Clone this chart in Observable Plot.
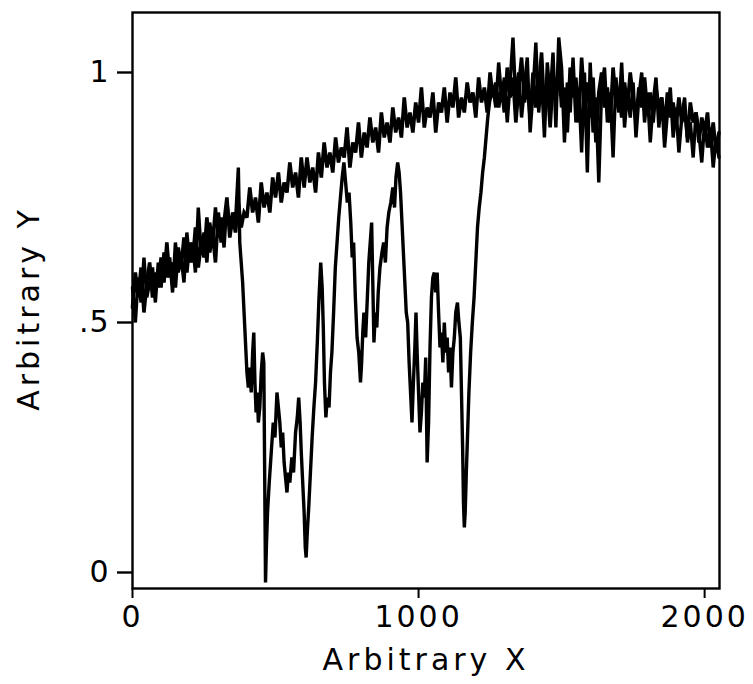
<!DOCTYPE html>
<html><head><meta charset="utf-8">
<script src="https://cdn.jsdelivr.net/npm/d3@7"></script>
<script src="https://cdn.jsdelivr.net/npm/@observablehq/plot@0.6"></script>
<style>
body{margin:0;background:#fff}
g[aria-label="x-axis tick label"] text{letter-spacing:3px}
g[aria-label="y-axis tick label"] text{letter-spacing:1px}
g[aria-label="text"] text{letter-spacing:4px}
</style>
</head><body><div id="chart"></div>
<script>
// Tick values and labels
const xTicks = [0, 1000, 2000];
const yTicks = [0, 0.5, 1];
const yTickLabels = ["0", ".5", "1"];
const xTitle = "Arbitrary X";
const yTitle = "Arbitrary Y";

// Reference trace (broad hump), sampled every 10 units from x = 0 to 2050
const refStep = 10;
const refY = [
  .53,.60,.55,.61,.52,.58,.62,.55,.60,.57,
  .63,.58,.66,.59,.62,.57,.65,.61,.67,.60,
  .66,.62,.69,.61,.66,.63,.71,.64,.68,.62,
  .72,.66,.70,.75,.67,.71,.68,.74,.69,.72,
  .71,.77,.72,.75,.70,.78,.73,.76,.72,.79,
  .75,.80,.74,.78,.76,.82,.77,.80,.75,.83,
  .77,.83,.78,.81,.76,.84,.79,.86,.81,.84,
  .80,.87,.82,.85,.83,.89,.81,.86,.84,.90,
  .83,.88,.85,.91,.86,.89,.84,.92,.87,.90,
  .86,.93,.88,.91,.87,.95,.89,.92,.88,.94,
  .90,.97,.89,.93,.91,.96,.88,.94,.92,.97,
  .90,.96,.93,.99,.91,.95,.92,.98,.94,.96,
  .91,.99,.94,.97,.92,1.00,.95,.98,.93,.97,
  .92,1.01,.95,.99,.90,.97,1.03,.94,.98,.91,
  1.00,.93,.97,1.04,.92,.98,.89,.99,.94,1.02,
  .93,.97,.88,1.01,.95,.99,.90,1.03,.94,.98,
  .91,.99,.86,.96,1.00,.93,.97,.90,1.01,.94,
  .97,.91,.98,.93,1.00,.95,.90,.97,.93,.99,
  .92,.96,.90,.97,.93,.95,.89,.96,.91,.94,
  .89,.95,.90,.93,.87,.94,.90,.92,.86,.91,
  .88,.92,.85,.90,.84,.88
];

// Sample trace: left part (x = 0..350, step 10), absorption region, right part (x = 1260..2050, step 10)
const sampleLeftY = [
  .57,.50,.59,.54,.63,.55,.58,.61,.54,.62,
  .57,.64,.59,.63,.56,.66,.60,.63,.58,.68,
  .62,.66,.60,.73,.64,.68,.62,.70,.66,.73,
  .67,.71,.65,.74,.69,.72
];
const dipX = [
  360,370,375,385,395,400,405,410,415,420,424,428,432,436,440,445,450,455,459,462,
  465,468,472,478,485,492,498,505,510,515,520,525,530,535,540,545,550,557,563,570,
  576,581,586,590,595,600,604,607,611,616,622,628,634,640,646,652,658,663,667,671,
  676,681,687,692,697,703,709,715,721,727,733,739,745,751,757,763,768,773,779,785,
  791,797,801,805,809,815,821,826,831,836,840,844,849,854,859,865,872,878,884,890,
  896,903,910,916,921,927,932,937,942,947,952,957,962,967,972,977,982,987,991,995,
  1000,1005,1010,1015,1020,1025,1030,1035,1040,1045,1050,1055,1060,1065,1070,1075,1080,1085,1090,1095,
  1100,1105,1110,1115,1120,1125,1130,1136,1141,1146,1150,1154,1157,1160,1163,1167,1171,1176,1182,1188,
  1194,1200,1206,1212,1218,1224,1230,1236,1242,1248,1255
];
const dipY = [
  .70,.81,.66,.58,.46,.40,.37,.41,.36,.44,.48,.38,.32,.36,.30,.33,.40,.44,.42,.20,
  -.02,.05,.12,.18,.24,.30,.27,.36,.33,.30,.25,.28,.22,.19,.16,.20,.18,.23,.20,.28,
  .31,.35,.30,.24,.18,.12,.05,.03,.08,.13,.20,.27,.33,.38,.46,.55,.62,.57,.49,.38,
  .31,.35,.33,.40,.44,.52,.61,.66,.71,.75,.79,.82,.78,.74,.76,.70,.63,.66,.55,.47,
  .44,.38,.42,.48,.52,.47,.55,.62,.66,.70,.58,.46,.52,.49,.56,.61,.64,.66,.62,.69,
  .72,.74,.77,.73,.79,.82,.80,.76,.70,.64,.58,.52,.50,.42,.36,.30,.38,.45,.52,.44,
  .36,.28,.32,.38,.35,.43,.22,.30,.45,.55,.59,.60,.56,.60,.52,.45,.48,.42,.50,.44,
  .47,.40,.45,.37,.44,.47,.52,.54,.50,.47,.36,.25,.14,.09,.12,.20,.27,.36,.44,.50,
  .55,.62,.69,.73,.76,.80,.83,.87,.91,.94,.96
];
const sampleRightY = [
  .97,.93,1.02,.95,.99,.90,.98,1.07,.94,1.00,
  .91,.97,1.03,.88,.96,1.06,.92,.99,.87,1.02,
  .95,1.04,.89,1.07,1.01,.86,.98,.92,1.03,.90,
  .97,.84,1.00,.80,1.02,.88,.95,.78,.97,1.01,
  .90,.96,.83,.99,.92,1.02,.89,.96,.91,.98,
  .87,.95,1.00,.90,.96,.86,.94,.99,.89,.95,
  .85,.92,.97,.87,.93,.84,.91,.95,.86,.90,
  .83,.92,.88,.82,.90,.85,.89,.81,.87,.83
];
const sampleLeftStart = 0, sampleRightStart = 1260, sampleStep = 10;

const refData = refY.map((y, i) => ({x: i * refStep, y}));
const sampleData = [
  ...sampleLeftY.map((y, i) => ({x: sampleLeftStart + i * sampleStep, y})),
  ...dipX.map((x, i) => ({x, y: dipY[i]})),
  ...sampleRightY.map((y, i) => ({x: sampleRightStart + i * sampleStep, y}))
];

const chart = Plot.plot({
  width: 753,
  height: 684,
  marginLeft: 132,
  marginRight: 34,
  marginTop: 12,
  marginBottom: 96,
  style: {fontFamily: "DejaVu Sans", fontSize: "30px", color: "#000", background: "#fff", overflow: "visible"},
  x: {domain: [0, 2052]},
  y: {domain: [-0.032, 1.12]},
  marks: [
    Plot.frame({stroke: "#000", strokeWidth: 2.4}),
    Plot.axisX(xTicks, {tickSize: 10, tickPadding: 7, strokeWidth: 2, label: null, fontSize: 30, tickFormat: d => String(d)}),
    Plot.axisY(yTicks, {tickSize: 15, tickPadding: 8, strokeWidth: 2.4, label: null, fontSize: 30, tickFormat: d => yTickLabels[yTicks.indexOf(d)]}),
    Plot.line(refData, {x: "x", y: "y", stroke: "#000", strokeWidth: 3.6, strokeLinejoin: "miter", strokeMiterlimit: 3}),
    Plot.line(sampleData, {x: "x", y: "y", stroke: "#000", strokeWidth: 3.4, strokeLinejoin: "miter", strokeMiterlimit: 3}),
    Plot.text([xTitle], {frameAnchor: "bottom", dy: 81, fontSize: 30, fill: "#000"}),
    Plot.text([yTitle], {frameAnchor: "left", dx: -103, dy: 8, rotate: -90, textAnchor: "middle", fontSize: 30, fill: "#000"})
  ]
});
document.getElementById("chart").append(chart);
</script>
</body></html>
